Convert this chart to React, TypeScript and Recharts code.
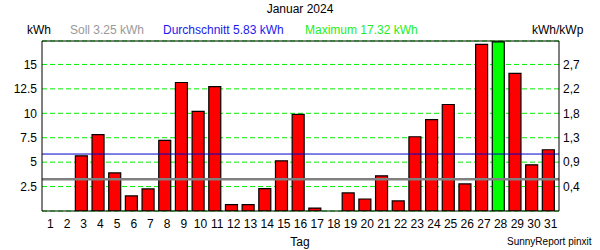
import React from 'react';
import { ComposedChart, Bar, Cell, XAxis, YAxis, CartesianGrid, ReferenceLine } from 'recharts';

const days = ['1', '2', '3', '4', '5', '6', '7', '8', '9', '10', '11', '12', '13', '14', '15', '16', '17', '18', '19', '20', '21', '22', '23', '24', '25', '26', '27', '28', '29', '30', '31'];
const energy = [0, 0, 5.65, 7.81, 3.9, 1.54, 2.26, 7.22, 13.15, 10.2, 12.74, 0.65, 0.65, 2.29, 5.14, 9.9, 0.3, 0, 1.85, 1.23, 3.6, 1.03, 7.6, 9.35, 10.9, 2.77, 17.06, 17.32, 14.08, 4.73, 6.27];
const leftTicks = [2.5, 5, 7.5, 10, 12.5, 15];
const rightLabels = ['0,4', '0,9', '1,3', '1,8', '2,2', '2,7'];
const soll = 3.25;
const average = 5.83;
const maximum = 17.32;
const yMax = 17.4;

const data = days.map((day, i) => ({ day, value: energy[i] }));

const font = '"Liberation Sans", Arial, sans-serif';

const label = (left: number, top: number, color: string, text: string, size = 12) => (
  <div style={{ position: 'absolute', left, top, color, fontSize: size, fontFamily: font, whiteSpace: 'nowrap', lineHeight: 1 }}>
    {text}
  </div>
);

export default function App() {
  return (
    <div style={{ position: 'absolute', left: 0, top: 0, width: 600, height: 250, background: '#fff' }}>
      <div style={{ position: 'absolute', left: 0, top: 3, width: 600, textAlign: 'center', fontSize: 12, fontFamily: font, lineHeight: 1, color: '#000' }}>
        Januar 2024
      </div>
      {label(27, 24, '#000', 'kWh')}
      {label(70, 24, '#999999', `Soll ${soll.toFixed(2)} kWh`)}
      {label(163, 24, '#1a1aee', `Durchschnitt ${average.toFixed(2)} kWh`)}
      {label(305, 24, '#22ee22', `Maximum ${maximum.toFixed(2)} kWh`)}
      {label(532, 24, '#000', 'kWh/kWp')}
      <div style={{ position: 'absolute', left: 0.5, top: 0.5 }}>
        <ComposedChart
          width={600}
          height={250}
          data={data}
          margin={{ top: 40, right: 0, left: 0, bottom: 0 }}
          barSize={12}
        >
          <CartesianGrid yAxisId="left" vertical={false} stroke="#00ee00" strokeDasharray="5 3" />
          <XAxis
            dataKey="day"
            interval={0}
            height={40}
            tickSize={0}
            tickMargin={8}
            axisLine={{ stroke: '#000' }}
            tick={{ fill: '#000', fontSize: 12, fontFamily: font }}
          />
          <YAxis
            yAxisId="left"
            domain={[0, yMax]}
            allowDataOverflow
            ticks={leftTicks}
            width={41}
            tickSize={0}
            tickMargin={5}
            axisLine={{ stroke: '#000' }}
            tick={{ fill: '#000', fontSize: 12, fontFamily: font }}
          />
          <YAxis
            yAxisId="right"
            orientation="right"
            type="number"
            domain={[0, yMax]}
            allowDataOverflow
            ticks={leftTicks}
            interval={0}
            tickFormatter={(v: number) => rightLabels[leftTicks.indexOf(v)]}
            width={42}
            tickSize={0}
            tickMargin={4}
            axisLine={{ stroke: '#000' }}
            tick={{ fill: '#000', fontSize: 12, fontFamily: font }}
          />
          <Bar yAxisId="left" dataKey="value" stroke="#000" strokeWidth={1.2} isAnimationActive={false}>
            {data.map((d) => (
              <Cell key={d.day} fill={d.value === maximum ? '#00ff00' : '#ff0000'} />
            ))}
          </Bar>
          <Bar yAxisId="right" dataKey="value" fill="none" stroke="none" legendType="none" isAnimationActive={false} barSize={0} />
          <ReferenceLine yAxisId="left" y={yMax} stroke="#000" strokeWidth={1} />
          <ReferenceLine yAxisId="left" y={average} stroke="#0000cc" strokeWidth={1} />
          <ReferenceLine yAxisId="left" y={soll} stroke="#808080" strokeWidth={2.5} />
        </ComposedChart>
      </div>
      <div style={{ position: 'absolute', left: 0, top: 236, width: 600, textAlign: 'center', fontSize: 12, fontFamily: font, lineHeight: 1, color: '#000' }}>
        Tag
      </div>
      {label(507, 237, '#000', 'SunnyReport pinxit', 10)}
    </div>
  );
}
